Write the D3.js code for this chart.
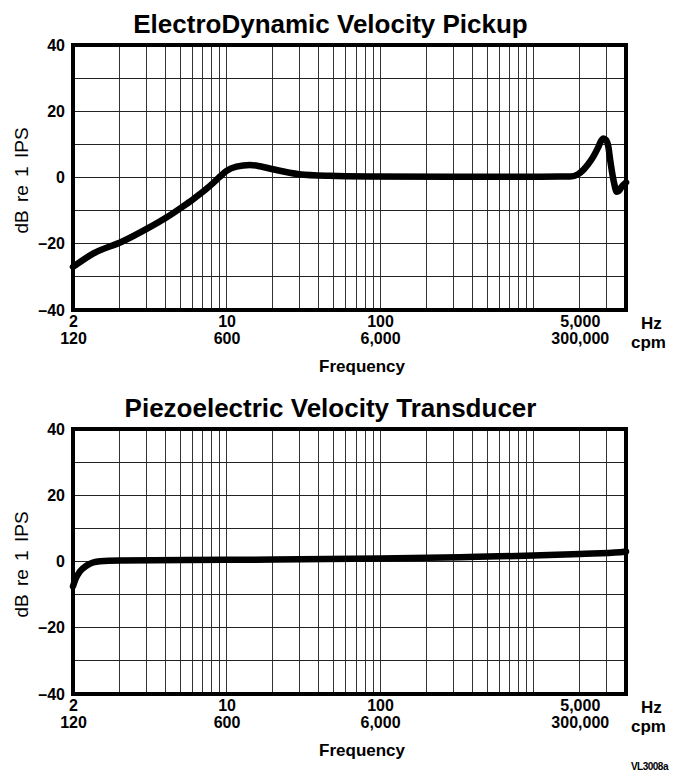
<!DOCTYPE html>
<html>
<head>
<meta charset="utf-8">
<script src="https://cdn.jsdelivr.net/npm/d3@7"></script>
<style>
  body { margin: 0; background: #fff; }
  text { font-family: "Liberation Sans", Arial, sans-serif; fill: #000; }
</style>
</head>
<body>
<div id="chart"></div>
<script>
// chart values (x in grid units of the log paper, y in dB re 1 IPS)
var pickupFreq = [1, 1.36, 2.08, 3.08, 4.08, 5.1, 6.08, 7.24, 8.2, 9.07, 10, 11.6, 14.2, 16.5, 20, 29.7, 47, 86, 286, 1100, 1730, 1950, 2110, 2265, 2450, 2630, 2750, 2850, 2967, 3070, 3150, 3340, 3480, 3600, 3750, 4000];
var pickupDb   = [-27, -22.9, -19.4, -15.3, -12, -9, -6.5, -3.8, -1.6, 0.3, 2, 3.3, 3.8, 3.4, 2.5, 1, 0.5, 0.3, 0.2, 0.25, 0.3, 1, 2.3, 4, 6.3, 9, 11, 11.8, 11.3, 9.3, 5.5, -1.5, -4.3, -4, -2.8, -1.5];

var piezoFreq = [1, 1.046, 1.11, 1.23, 1.35, 1.5, 2.02, 10, 100, 332, 993, 2010, 3660, 4000];
var piezoDb   = [-7.5, -5, -3, -1.2, -0.3, 0.1, 0.3, 0.5, 0.9, 1.3, 1.8, 2.3, 2.8, 3];

var yTicks = [-40, -20, 0, 20, 40];
var xTickAt = [1, 10, 100, 2000];
var hzLabels = ["2", "10", "100", "5,000"];
var cpmLabels = ["120", "600", "6,000", "300,000"];

// set the dimensions of the page and the two plots
var pageW = 674, pageH = 773;
var plotLeft = 73, plotW = 553, plotH = 265;

var svg = d3.select("#chart").append("svg")
    .attr("width", pageW)
    .attr("height", pageH);

// set the ranges
var x = d3.scaleLog().domain([1, 4000]).range([0, plotW]);
var y = d3.scaleLinear().domain([-40, 40]).range([plotH, 0]);

// grid values: 1..9 per decade
var gridX = [];
[1, 10, 100, 1000].forEach(function(dec) {
  for (var m = 1; m <= 9; m++) {
    var v = m * dec;
    if (v > 1 && v < 4000) gridX.push(v);
  }
});
var gridY = d3.range(-30, 40, 10);

function drawChart(top, title, freq, db) {
  var g = svg.append("g")
      .attr("transform", "translate(" + plotLeft + "," + top + ")");

  // title
  g.append("text")
      .attr("x", plotW / 2 - 19)
      .attr("y", -12)
      .attr("text-anchor", "middle")
      .style("font-size", "26px")
      .style("font-weight", "bold")
      .text(title);

  // grid lines
  g.append("g").selectAll("line")
      .data(gridX)
    .enter().append("line")
      .attr("x1", function(d) { return x(d); })
      .attr("x2", function(d) { return x(d); })
      .attr("y1", 0)
      .attr("y2", plotH)
      .attr("stroke", "#333")
      .attr("stroke-width", 1)
      .attr("shape-rendering", "crispEdges");
  g.append("g").selectAll("line")
      .data(gridY)
    .enter().append("line")
      .attr("x1", 0)
      .attr("x2", plotW)
      .attr("y1", function(d) { return y(d); })
      .attr("y2", function(d) { return y(d); })
      .attr("stroke", "#222")
      .attr("stroke-width", 1)
      .attr("shape-rendering", "crispEdges");

  // the curve
  var line = d3.line()
      .x(function(d, i) { return x(freq[i]); })
      .y(function(d) { return y(d); })
      .curve(d3.curveMonotoneX);
  g.append("path")
      .datum(db)
      .attr("d", line)
      .attr("fill", "none")
      .attr("stroke", "#000")
      .attr("stroke-width", 6.5)
      .attr("stroke-linejoin", "round")
      .attr("stroke-linecap", "round");

  // frame
  g.append("rect")
      .attr("width", plotW)
      .attr("height", plotH)
      .attr("fill", "none")
      .attr("stroke", "#000")
      .attr("stroke-width", 4);

  // y axis
  g.append("g")
      .attr("transform", "translate(-4,0)")
      .call(d3.axisLeft(y).tickValues(yTicks).tickSize(0).tickPadding(4)
        .tickFormat(function(d) { return d < 0 ? "\u2013" + (-d) : d; }))
      .call(g => g.select(".domain").remove())
      .call(g => g.selectAll("text")
        .style("font-family", "'Liberation Sans', Arial, sans-serif")
        .style("font-size", "16px")
        .style("font-weight", "bold"));

  g.append("text")
      .attr("transform", "translate(-45," + (plotH / 2 + 3) + ") rotate(-90)")
      .attr("text-anchor", "middle")
      .style("font-size", "19px")
      .style("word-spacing", "3px")
      .text("dB re 1 IPS");

  // x axis: Hz row and cpm row
  var xAxis = g.append("g")
      .attr("transform", "translate(0," + plotH + ")")
      .call(d3.axisBottom(x).tickValues(xTickAt).tickSize(0).tickPadding(6)
        .tickFormat(function(d, i) { return hzLabels[i]; }))
      .call(g => g.select(".domain").remove());
  xAxis.selectAll(".tick").append("text")
      .attr("y", 23)
      .attr("dy", "0.71em")
      .attr("fill", "#000")
      .text(function(d, i) { return cpmLabels[i]; });
  xAxis.selectAll("text")
      .style("font-family", "'Liberation Sans', Arial, sans-serif")
      .style("font-size", "16px")
      .style("font-weight", "bold");

  g.append("text")
      .attr("x", plotW + 15)
      .attr("y", plotH + 19)
      .style("font-size", "17px")
      .style("font-weight", "bold")
      .text("Hz");
  g.append("text")
      .attr("x", plotW + 5)
      .attr("y", plotH + 38)
      .style("font-size", "17px")
      .style("font-weight", "bold")
      .text("cpm");

  g.append("text")
      .attr("x", x(xTickAt[2]) - 18)
      .attr("y", plotH + 62)
      .attr("text-anchor", "middle")
      .style("font-size", "17px")
      .style("font-weight", "bold")
      .text("Frequency");
}

drawChart(45, "ElectroDynamic Velocity Pickup", pickupFreq, pickupDb);
drawChart(429, "Piezoelectric Velocity Transducer", piezoFreq, piezoDb);

svg.append("text")
    .attr("x", 668)
    .attr("y", 770)
    .attr("text-anchor", "end")
    .style("font-size", "10px")
    .style("font-weight", "bold")
    .style("letter-spacing", "-0.5px")
    .text("VL3008a");
</script>
</body>
</html>
